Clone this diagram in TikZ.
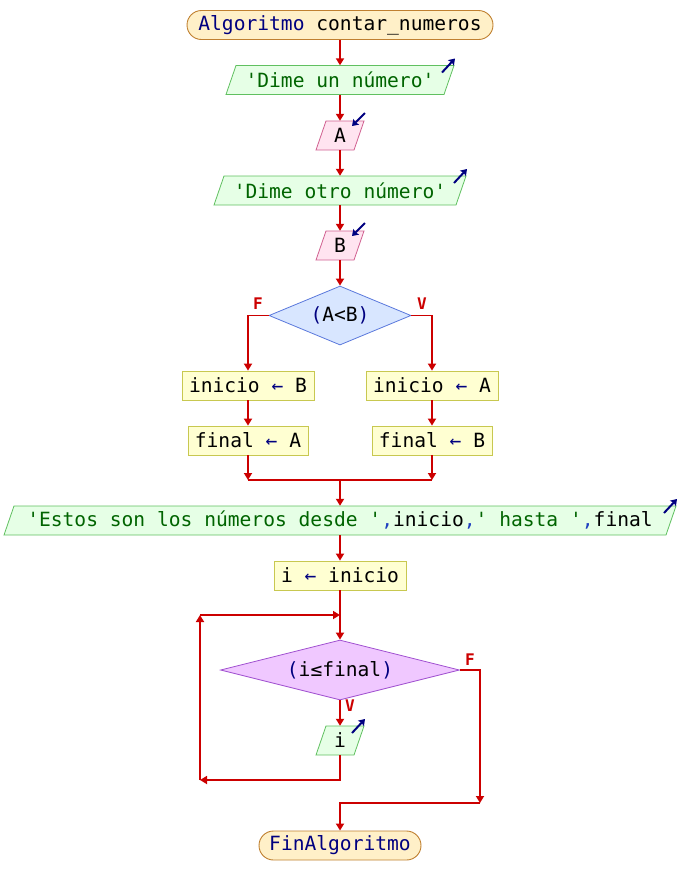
\documentclass[tikz,border=0pt]{standalone}
\usepackage{fontspec}
\setmonofont{DejaVu Sans Mono}
\usetikzlibrary{arrows.meta,shapes.geometric,calc}
\definecolor{termf}{HTML}{FFF0C8}
\definecolor{termd}{HTML}{C08030}
\definecolor{outf}{HTML}{E6FFE6}
\definecolor{outd}{HTML}{60C060}
\definecolor{inf}{HTML}{FFE4F0}
\definecolor{ind}{HTML}{D06090}
\definecolor{procf}{HTML}{FFFFD2}
\definecolor{procd}{HTML}{C8C850}
\definecolor{dAf}{HTML}{D8E6FF}
\definecolor{dAd}{HTML}{5A78DC}
\definecolor{dBf}{HTML}{F0C8FF}
\definecolor{dBd}{HTML}{A050D0}
\definecolor{flowc}{HTML}{CC0000}
\definecolor{kw}{HTML}{000080}
\definecolor{str}{HTML}{006400}
\definecolor{cm}{HTML}{2040C0}
\newcommand\ioshape[6]{%
  \draw[#5] ({#2-#4-5},{#3+14.5}) -- ({#2-#4+5},{#3-14.5}) -- ({#2+#4+5},{#3-14.5}) -- ({#2+#4-5},{#3+14.5}) -- cycle;
  \node[iotext, minimum width={2*#4}] (#1) at (#2,#3) {#6};
}
\newcommand\outicon[3]{\draw[icon] ({#1+#3+5-12},{#2-14.5+7}) -- ++(13,-14);}
\newcommand\inicon[3]{\draw[icon] ({#1+#3+5+1},{#2-14.5-8}) -- ++(-13,13);}
\begin{document}
\begin{tikzpicture}[x=1pt,y=-1pt,
  font=\ttfamily\fontsize{19.6}{24}\selectfont,
  term/.style={rectangle, rounded corners=14.5pt, draw=termd, fill=termf, line width=0.9pt, inner sep=0pt, minimum height=29pt},
  proc/.style={rectangle, draw=procd, fill=procf, line width=0.8pt, minimum height=29pt, inner sep=0pt},
  iotext/.style={inner sep=0pt, minimum height=29pt},
  outsty/.style={draw=outd, fill=outf, line width=0.8pt},
  insty/.style={draw=ind, fill=inf, line width=0.8pt},
  dec/.style={diamond, inner sep=0pt, line width=0.8pt},
  flow/.style={draw=flowc, line width=1.7pt, -{Triangle[width=8pt,length=7pt]}},
  plain/.style={draw=flowc, line width=1.7pt},
  lab/.style={text=flowc, font=\ttfamily\bfseries\fontsize{16}{18}\selectfont},
  icon/.style={draw=kw, line width=2pt, -{Stealth[width=8pt,length=6pt,inset=1pt]}}
]
\useasboundingbox (0,0) rectangle (680,895);

\node[term, minimum width=306pt] (start) at (340,25) {{\color{kw}Algoritmo} contar\_numeros};

\ioshape{p1}{340}{80}{109}{outsty}{\color{str}'Dime un número'}
\outicon{340}{80}{109}
\ioshape{pA}{340}{135.5}{19}{insty}{A}
\inicon{340}{135.5}{19}
\ioshape{p2}{340}{190.5}{121}{outsty}{\color{str}'Dime otro número'}
\outicon{340}{190.5}{121}
\ioshape{pB}{340}{245.5}{19}{insty}{B}
\inicon{340}{245.5}{19}

\node[dec, aspect=2.4, draw=dAd, fill=dAf, minimum width=142pt, minimum height=59pt] (d1) at (340,315.5) {{\color{kw}(}A<B{\color{kw})}};

\node[proc, minimum width=132pt] (ib) at (248,385.5) {inicio {\color{kw}←} B};
\node[proc, minimum width=120pt] (fa) at (248,440.5) {final {\color{kw}←} A};
\node[proc, minimum width=132pt] (ia) at (432,385.5) {inicio {\color{kw}←} A};
\node[proc, minimum width=120pt] (fb) at (432,440.5) {final {\color{kw}←} B};

\coordinate (jl) at (248,480);
\coordinate (jr) at (432,480);
\coordinate (jm) at (340,480);

\ioshape{out}{340}{520.5}{331}{outsty}{{\color{str}'Estos son los números desde '}{\color{cm},}inicio{\color{cm},}{\color{str}' hasta '}{\color{cm},}final}
\outicon{340}{520.5}{331}

\node[proc, minimum width=132pt] (ii) at (340,575.5) {i {\color{kw}←} inicio};
\coordinate (jt) at (340,615);

\node[dec, aspect=4, draw=dBd, fill=dBf, minimum width=239pt, minimum height=60pt] (d2) at (340,670) {{\color{kw}(}i≤final{\color{kw})}};

\ioshape{pi}{340}{740.5}{19}{outsty}{i}
\outicon{340}{740.5}{19}

\coordinate (lb2) at (200,780);
\coordinate (lb3) at (200,615);
\coordinate (fr) at (480,803);

\node[term, minimum width=162pt] (endn) at (340,845.5) {\color{kw}FinAlgoritmo};

% connectors
\draw[flow] (start.south) -- (p1.north);
\draw[flow] (p1.south) -- (pA.north);
\draw[flow] (pA.south) -- (p2.north);
\draw[flow] (p2.south) -- (pB.north);
\draw[flow] (pB.south) -- (d1.north);
\draw[flow] (d1.west) -| (ib.north);
\draw[flow] (d1.east) -| (ia.north);
\node[lab] (lf1) at (258,304) {F};
\node[lab] (lv1) at (422,304) {V};
\draw[flow] (ib.south) -- (fa.north);
\draw[flow] (ia.south) -- (fb.north);
\draw[flow] (fa.south) -- (jl);
\draw[flow] (fb.south) -- (jr);
\draw[plain] (jl) -- (jr);
\draw[flow] (jm) -- (out.north);
\draw[flow] (out.south) -- (ii.north);
\draw[flow] (ii.south) -- (d2.north);
\draw[flow] (d2.south) -- (pi.north);
\node[lab] (lv2) at (350,706) {V};
\draw[flow] (pi.south) |- (lb2);
\draw[flow] (lb2) -- (lb3);
\draw[flow] (lb3) -- (jt);
\draw[flow] (d2.east) -| (fr);
\node[lab] (lf2) at (470,660) {F};
\draw[flow] (fr) -| (endn.north);
\end{tikzpicture}
\end{document}
